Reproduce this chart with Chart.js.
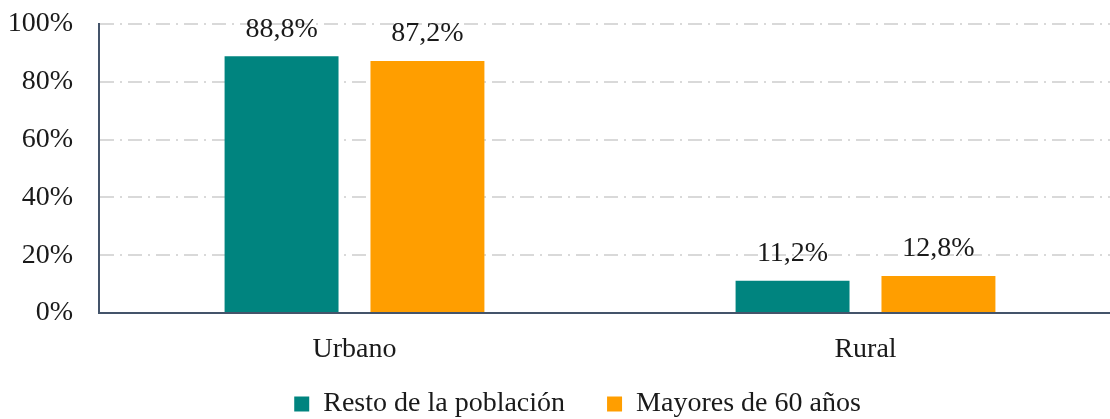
<!DOCTYPE html>
<html>
<head>
<meta charset="utf-8">
<script src="https://cdn.jsdelivr.net/npm/chart.js@4/dist/chart.umd.min.js"></script>
<style>
  html, body { margin: 0; padding: 0; background: #fff; overflow: hidden; }
  #outer { width: 1110px; height: 419px; overflow: hidden; position: relative; }
  /* plot runs a little past the right edge, like the original */
  #wrap { width: 1121px; height: 419px; position: absolute; left: 0; top: 0; }
</style>
</head>
<body>
<div id="outer"><div id="wrap"><canvas id="barChart"></canvas></div></div>
<script>
// categories and series
const categories = ['Urbano', 'Rural'];
const restoPoblacion = [88.8, 11.2];
const mayores60 = [87.2, 12.8];
const seriesNames = ['Resto de la población', 'Mayores de 60 años'];
const yTicks = [0, 20, 40, 60, 80, 100];

const serif = "'Liberation Serif', 'DejaVu Serif', serif";
const textColor = '#1a1a1a';

// draws the value over each bar, with a decimal comma
const valueLabels = {
    id: 'valueLabels',
    afterDatasetsDraw(chart) {
        const c = chart.ctx;
        c.save();
        c.font = '28px ' + serif;
        c.fillStyle = textColor;
        c.textAlign = 'center';
        c.textBaseline = 'middle';
        chart.data.datasets.forEach((ds, i) => {
            chart.getDatasetMeta(i).data.forEach((bar, j) => {
                const txt = ds.data[j].toFixed(1).replace('.', ',') + '%';
                c.fillText(txt, bar.x, bar.y - 27);
            });
        });
        c.restore();
    }
};

// nudge the legend into place (it sits lower and right of centre)
// bottom stays at the canvas edge so the legend clip doesn't cut the text
const legendShift = {
    id: 'legendShift',
    beforeDraw(chart) {
        const lg = chart.legend;
        lg.top = 348;
        lg.bottom = chart.height;
        lg.left += 17;
        lg.right += 17;
    }
};

const ctx = document.getElementById('barChart').getContext('2d');

new Chart(ctx, {
    type: 'bar',
    data: {
        labels: categories,
        datasets: [{
            label: seriesNames[0],
            data: restoPoblacion,
            backgroundColor: '#00847F',
            categoryPercentage: 0.571,
            barPercentage: 0.781
        }, {
            label: seriesNames[1],
            data: mayores60,
            backgroundColor: '#FF9E00',
            categoryPercentage: 0.571,
            barPercentage: 0.781
        }]
    },
    options: {
        responsive: true,
        maintainAspectRatio: false,
        animation: false,
        layout: { padding: 0 },
        plugins: {
            tooltip: { enabled: false },
            legend: {
                position: 'bottom',
                maxHeight: 50,
                labels: {
                    font: { family: serif, size: 28 },
                    color: textColor,
                    boxWidth: 15,
                    boxHeight: 15,
                    padding: 42
                }
            }
        },
        scales: {
            x: {
                afterFit(scale) {
                    scale.height = 56;
                },
                grid: { display: false, drawTicks: false },
                border: { color: '#44546A', width: 2 },
                ticks: {
                    font: { family: serif, size: 28 },
                    color: textColor,
                    padding: 20
                }
            },
            y: {
                min: 0,
                max: 100,
                afterBuildTicks(axis) {
                    axis.ticks = yTicks.map(v => ({ value: v }));
                },
                afterFit(scale) {
                    scale.width = 99;
                    scale.paddingTop = 24;
                },
                grid: {
                    color: '#d9d9d9',
                    lineWidth: 2,
                    drawTicks: false
                },
                border: { color: '#44546A', width: 2, dash: [14, 6, 2, 6] },
                ticks: {
                    font: { family: serif, size: 28 },
                    color: textColor,
                    padding: 26,
                    callback: v => v + '%'
                }
            }
        }
    },
    plugins: [valueLabels, legendShift]
});
</script>
</body>
</html>
